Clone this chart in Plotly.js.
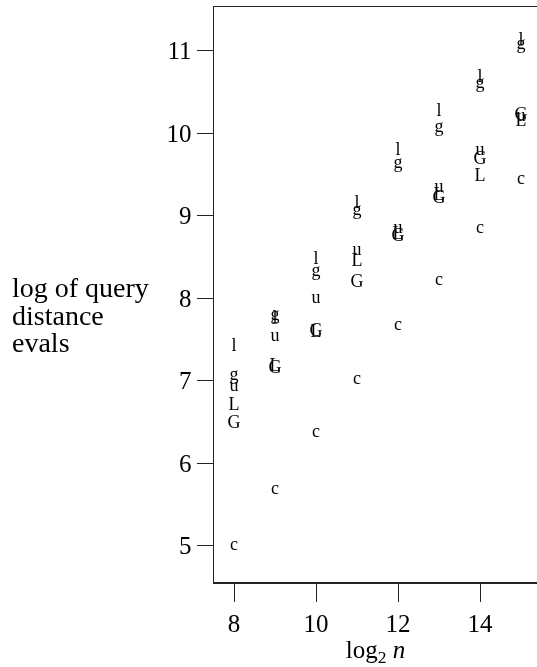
<!DOCTYPE html>
<html>
<head>
<meta charset="utf-8">
<script src="https://cdn.plot.ly/plotly-3.0.1.min.js"></script>
<style>html,body{margin:0;padding:0;background:#fff;}#chart{width:537px;height:667px;filter:grayscale(1);}</style>
</head>
<body>
<div id="chart"></div>
<script>
const logN = [8, 9, 10, 11, 12, 13, 14, 15];
const seriesLabels = ["l", "g", "u", "L", "G", "c"];
const series_l = [7.41, 7.75, 8.47, 9.15, 9.79, 10.26, 10.67, 11.13];
const series_g = [7.06, 7.79, 8.32, 9.06, 9.63, 10.07, 10.60, 11.07];
const series_u = [6.93, 7.53, 8.00, 8.58, 8.85, 9.34, 9.79, 10.20];
const series_L = [6.70, 7.17, 7.58, 8.44, 8.77, 9.25, 9.47, 10.14];
const series_G = [6.48, 7.15, 7.60, 8.19, 8.75, 9.21, 9.68, 10.22];
const series_c = [5.00, 5.68, 6.37, 7.01, 7.67, 8.22, 8.84, 9.44];
const xTicks = [8, 10, 12, 14];
const yTicks = [5, 6, 7, 8, 9, 10, 11];
const yTitleLines = ["log of query", "distance", "evals"];

const allSeries = [series_l, series_g, series_u, series_L, series_G, series_c];
const fontFam = "Liberation Serif, DejaVu Serif, serif";

const traces = allSeries.map((ys, i) => ({
  x: logN,
  y: ys,
  mode: "text",
  type: "scatter",
  text: logN.map(() => seriesLabels[i]),
  textposition: "middle center",
  textfont: {family: fontFam, size: 18, color: "#000"},
  hoverinfo: "none",
  showlegend: false
}));

const plotL = 214, plotT = 7, plotB = 85, W = 537, H = 667;
const plotW = W - plotL, plotH = H - plotT - plotB;
const titleCenters = [287, 315, 342];

const layout = {
  width: W,
  height: H,
  margin: {l: plotL, r: 0, t: plotT, b: plotB, pad: 0},
  paper_bgcolor: "#fff",
  plot_bgcolor: "#fff",
  font: {family: fontFam, color: "#000"},
  xaxis: {
    range: [7.51, 15.39],
    tickvals: xTicks,
    ticktext: xTicks.map(String),
    ticks: "outside",
    ticklen: 18,
    tickwidth: 1,
    tickcolor: "#222",
    showline: true,
    linecolor: "#222",
    linewidth: 1.5,
    mirror: true,
    showgrid: false,
    zeroline: false,
    tickfont: {family: fontFam, size: 25, color: "#000"},
    title: {text: "log<sub>2</sub> <i>n</i>", font: {family: fontFam, size: 25, color: "#000"}, standoff: 0}
  },
  yaxis: {
    range: [4.56, 11.53],
    tickvals: yTicks,
    ticktext: yTicks.map(String),
    ticks: "outside",
    ticklen: 16,
    tickwidth: 1,
    tickcolor: "#222",
    showline: true,
    linecolor: "#222",
    linewidth: 1.5,
    showgrid: false,
    zeroline: false,
    tickfont: {family: fontFam, size: 25, color: "#000"}
  },
  annotations: yTitleLines.map((t, i) => ({
    text: t,
    xref: "paper", yref: "paper",
    x: (10 - plotL) / plotW,
    y: (H - plotB - titleCenters[i]) / plotH,
    xanchor: "left", yanchor: "middle",
    align: "left",
    showarrow: false,
    font: {family: fontFam, size: 28, color: "#000"}
  }))
};

Plotly.newPlot("chart", traces, layout, {staticPlot: true, displayModeBar: false});
</script>
</body>
</html>
